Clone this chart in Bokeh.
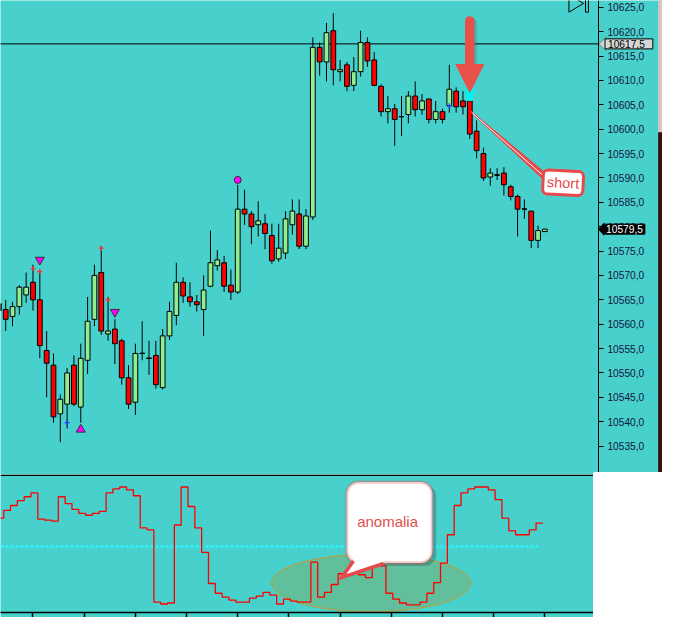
import numpy as np
from bokeh.plotting import figure
from bokeh.layouts import column
from bokeh.models import (Range1d, FixedTicker, Span, Label, BoxAnnotation,
                          PolyAnnotation, ColumnDataSource, LinearAxis)
from bokeh.embed import file_html
from bokeh.resources import INLINE

# ---------------- data ----------------
open_ = [10562.8, 10563.0, 10561.6, 10563.6, 10566.0, 10568.6, 10565.0, 10554.6, 10551.6, 10541.6,
         10543.6, 10551.6, 10543.0, 10552.6, 10561.0, 10570.6, 10558.0, 10559.0, 10556.6, 10549.0,
         10544.0, 10554.0, 10553.0, 10553.6, 10547.0, 10557.6, 10561.8, 10568.6, 10565.6, 10564.6,
         10563.0, 10567.8, 10572.0, 10572.6, 10568.0, 10566.6, 10583.6, 10582.6, 10580.4, 10580.6,
         10578.2, 10573.4, 10574.6, 10580.4, 10582.6, 10576.0, 10582.0, 10616.8, 10613.8, 10620.2,
         10611.8, 10613.2, 10609.0, 10611.8, 10617.8, 10614.2, 10608.8, 10603.6, 10604.2, 10602.6,
         10603.0, 10606.8, 10604.0, 10606.2, 10602.0, 10603.6, 10604.8, 10607.8, 10605.8, 10605.8,
         10599.6, 10595.0, 10590.2, 10590.6, 10591.0, 10588.2, 10586.2, 10583.6, 10583.2, 10577.2,
         10579.0]
high_ = [10565.4, 10565.0, 10564.6, 10568.0, 10570.6, 10572.2, 10571.0, 10558.6, 10554.0, 10545.6,
         10551.0, 10553.6, 10556.0, 10565.6, 10572.2, 10576.0, 10565.6, 10561.0, 10557.0, 10551.6,
         10556.0, 10560.6, 10556.6, 10556.6, 10559.0, 10564.6, 10572.6, 10569.6, 10568.6, 10566.0,
         10570.0, 10579.2, 10575.2, 10574.0, 10571.2, 10588.6, 10587.6, 10583.2, 10585.2, 10582.6,
         10580.6, 10580.6, 10583.2, 10585.6, 10585.6, 10583.6, 10618.8, 10617.8, 10621.8, 10623.8,
         10614.2, 10613.8, 10614.8, 10620.2, 10618.8, 10615.8, 10609.2, 10606.8, 10605.2, 10606.8,
         10607.8, 10609.8, 10607.2, 10606.2, 10605.8, 10604.2, 10613.2, 10608.6, 10607.8, 10607.8,
         10601.8, 10596.2, 10592.0, 10592.0, 10592.2, 10588.6, 10586.6, 10585.6, 10583.2, 10580.2,
         10579.5]
low_ = [10562.0, 10558.6, 10559.6, 10562.0, 10564.4, 10562.8, 10553.0, 10545.0, 10539.8, 10535.8,
        10538.6, 10543.2, 10539.8, 10549.8, 10559.6, 10557.8, 10556.6, 10551.8, 10547.6, 10542.6,
        10541.4, 10552.6, 10549.6, 10546.8, 10546.6, 10556.8, 10559.8, 10564.4, 10563.6, 10562.6,
        10557.6, 10567.6, 10571.0, 10566.6, 10565.0, 10566.2, 10580.4, 10576.4, 10578.0, 10575.4,
        10572.4, 10572.8, 10573.4, 10578.4, 10575.4, 10575.4, 10581.4, 10611.0, 10609.8, 10609.0,
        10609.8, 10607.8, 10607.8, 10610.8, 10612.8, 10608.8, 10602.6, 10601.2, 10596.6, 10598.6,
        10601.2, 10602.6, 10603.0, 10601.2, 10601.2, 10601.2, 10603.4, 10603.4, 10603.0, 10598.0,
        10594.0, 10589.4, 10588.4, 10589.6, 10586.4, 10585.4, 10578.0, 10581.6, 10575.6, 10575.6,
        10579.0]
close_ = [10564.2, 10561.0, 10563.6, 10567.6, 10567.6, 10565.0, 10555.6, 10552.0, 10541.0, 10544.6,
          10550.0, 10543.6, 10553.0, 10560.6, 10570.0, 10558.6, 10558.6, 10556.0, 10549.0, 10543.6,
          10554.0, 10554.0, 10553.0, 10547.6, 10557.6, 10562.6, 10568.6, 10565.8, 10564.6, 10564.0,
          10567.0, 10572.6, 10573.2, 10567.8, 10566.6, 10583.6, 10582.6, 10580.0, 10581.2, 10578.6,
          10573.0, 10575.6, 10581.6, 10583.2, 10576.0, 10582.2, 10616.8, 10613.8, 10619.8, 10612.2,
          10612.2, 10608.8, 10611.8, 10617.8, 10614.0, 10609.0, 10603.6, 10604.2, 10602.0, 10602.6,
          10606.8, 10604.0, 10605.8, 10602.0, 10603.6, 10602.0, 10608.2, 10604.6, 10604.6, 10599.0,
          10595.6, 10590.0, 10591.0, 10590.6, 10588.6, 10586.2, 10583.6, 10583.6, 10577.2, 10579.2,
          10579.5]
# lower-panel oscillator (one value per bar)
osc = [73.2, 79.6, 83.6, 87.6, 90.8, 94.0, 72.4, 71.6, 70.8, 90.8,
       85.2, 80.4, 77.2, 75.6, 77.2, 78.8, 94.0, 97.2, 98.8, 96.4,
       91.6, 65.2, 63.6, 4.4, 2.8, 3.6, 67.6, 98.8, 82.8, 65.2,
       45.2, 19.6, 11.6, 8.4, 6.0, 4.4, 4.4, 7.6, 9.2, 12.4,
       10.0, 2.8, 6.8, 5.2, 4.4, 4.4, 37.2, 8.4, 12.4, 18.8,
       27.6, 29.2, 28.4, 26.8, 24.4, 34.0, 34.0, 11.6, 6.8, 3.6,
       2.0, 2.0, 4.4, 11.6, 20.4, 36.4, 59.6, 83.6, 94.0, 97.2,
       98.8, 98.8, 96.4, 88.4, 73.2, 62.8, 59.6, 59.6, 63.6, 69.2]
osc_mid = 50
sig_dn_idx = [6, 17]
sig_dn_px = [10573.2, 10562.5]
sig_up_idx = [12]
sig_up_px = [10538.4]
dot_idx = [35]
dot_px = [10589.6]
red_mark_idx = [5, 6, 15, 16]
red_mark_px = [10571.4, 10570.8, 10575.6, 10565.0]
blue_mark_idx = [10, 66]
blue_mark_px = [10539.8, 10604.8]
price_ticks = [10535, 10540, 10545, 10550, 10555, 10560, 10565, 10570, 10575, 10580,
               10585, 10590, 10595, 10600, 10605, 10610, 10615, 10620, 10625]
time_ticks = [5, 12.5, 20, 27.5, 35, 42.5, 50, 57.5, 65, 72.5, 80]
hline_level = 10617.5
short_bar = 69

# ---------------- geometry / style ----------------
S = 0.975                      # overall scale to fit the window
BG = "#48D1CC"
GREEN = "#90EE90"
RED = "#FF0000"
CALLRED = "#E8494B"
AXC = "#14143C"
FONT = "Liberation Sans"


def kx(px):                     # reference pixel x -> bar units
    return (px + 1.67) / 7.0


def py(px):                     # reference pixel y -> price (top panel)
    return 10626.4 - px / 5.0


def vy(px):                     # reference pixel y -> oscillator units (bottom panel)
    return osc_mid + (560 - px) * 0.8


W_TOP, H_TOP = 662, 474
W_BOT, H_BOT = 593, 143
AXIS_X = kx(613.3)

p = figure(width=W_TOP, height=H_TOP, output_backend="svg", toolbar_location=None,
           x_range=Range1d(kx(0), kx(W_TOP / S)),
           y_range=Range1d(py(H_TOP / S), py(0)),
           x_axis_location=None, y_axis_location=None,
           min_border_left=0, min_border_right=0,
           min_border_top=0, min_border_bottom=0,
           background_fill_color=BG, border_fill_color=BG, outline_line_color=None)
p.grid.visible = False
ya = LinearAxis(fixed_location=AXIS_X)
ya.ticker = FixedTicker(ticks=price_ticks)
ya.major_label_overrides = {t: f"{t:.1f}".replace(".", ",") for t in price_ticks}
ya.minor_tick_line_color = None
ya.major_tick_in = 0
ya.major_tick_out = 5
ya.axis_line_color = "black"
ya.major_tick_line_color = "black"
ya.major_label_standoff = 4
ya.major_label_text_font = FONT
ya.major_label_text_font_size = "10.2px"
ya.major_label_text_color = AXC
p.add_layout(ya, "right")

idx = np.arange(len(open_))
o = np.array(open_); h = np.array(high_); l = np.array(low_); c = np.array(close_)
col = np.where(c >= o, GREEN, RED)
body = ColumnDataSource(dict(x=idx, top=np.maximum(o, c), bot=np.minimum(o, c), h=h, l=l, col=col))
doji = c == o

# user-drawn horizontal line, up to the price axis
p.segment([kx(0) - 1], [hline_level], [AXIS_X], [hline_level], line_color="black", line_width=1)
p.segment(x0="x", y0="h", x1="x", y1="l", source=body, line_color="black", line_width=1)
p.vbar(x="x", width=0.7, top="top", bottom="bot", source=body, fill_color="col",
       line_color="black", line_width=1)
p.segment(x0=idx[doji] - 0.36, y0=c[doji], x1=idx[doji] + 0.36, y1=c[doji],
          line_color="black", line_width=1.2)

# signal markers
p.scatter(sig_dn_idx, sig_dn_px, marker="inverted_triangle", size=9, fill_color="#FF00FF",
          line_color="#303030", line_width=1)
p.scatter(sig_up_idx, sig_up_px, marker="triangle", size=9, fill_color="#FF00FF",
          line_color="#303030", line_width=1)
p.scatter(dot_idx, dot_px, marker="circle", size=7, fill_color="#FF00FF",
          line_color="#303030", line_width=1)
p.scatter(red_mark_idx, red_mark_px, marker="cross", size=5, line_color="#FF3030", line_width=1.3)
p.scatter(blue_mark_idx, blue_mark_px, marker="cross", size=5, line_color="#2040FF", line_width=1.3)

# big red arrow at the short bar, with cyan glow at its tip
ax = short_bar
tip = high_[ax] - 0.4
p.patch([ax - 0.75, ax + 0.75, ax + 0.35, ax - 0.35],
        [tip + 0.8, tip + 0.8, o[ax], o[ax]], fill_color="#00F4F4", line_color=None)
p.segment([ax + 0.3], [tip + 5.6], [ax + 0.3], [tip + 14.4], line_color="#2A6A66",
          line_alpha=0.25, line_width=10, line_cap="round")
p.segment([ax], [tip + 6.0], [ax], [tip + 14.8], line_color="#E8504A", line_width=9.5,
          line_cap="round")
p.patch([ax - 2.15, ax + 2.15, ax], [tip + 6.0, tip + 6.0, tip], fill_color="#E8504A",
        line_color=None)

# "short" callout
p.patch([kx(482.5), kx(556), kx(560)], [py(114), py(175), py(186)],
        fill_color=CALLRED, line_color=CALLRED, line_width=1.5)
p.segment([kx(484)], [py(115.5)], [kx(557)], [py(180)], line_color="white", line_width=1)
p.add_layout(Label(x=kx(577), y=py(187), text="short", text_align="center",
                   text_baseline="middle", text_font=FONT, text_font_size="14.5px",
                   text_color=CALLRED, angle=-0.05, background_fill_color="white",
                   border_line_color=CALLRED, border_line_width=3, border_radius=5,
                   padding=4))

# chart-window icon (top right)
p.patch([kx(583), kx(583), kx(598)], [py(-6), py(12), py(3)], fill_alpha=0,
        line_color="black", line_width=1)
p.quad(left=[kx(600)], right=[kx(603)], top=[py(-2)], bottom=[py(12)], fill_alpha=0,
       line_color="black", line_width=1)

# scrollbar strip at the right edge and white corner under the axis
p.add_layout(BoxAnnotation(left=kx(674.5), right=kx(690), top=py(-5), bottom=py(135),
                           fill_color="#D8C4C4", fill_alpha=1, line_color=None))
p.add_layout(BoxAnnotation(left=kx(674.5), right=kx(690), top=py(135), bottom=py(484),
                           fill_color="#3A0C0C", fill_alpha=1, line_color=None))
p.add_layout(BoxAnnotation(left=kx(608.3), right=kx(690), top=py(483.5), bottom=py(500),
                           fill_color="white", fill_alpha=1, line_color=None))

# price tags on the axis
p.add_layout(PolyAnnotation(xs=[kx(620.5), kx(614), kx(620.5)],
                            ys=[hline_level + 1.3, hline_level, hline_level - 1.3],
                            fill_color="#D6D6D6", fill_alpha=1, line_color="black"))
p.add_layout(Label(x=kx(620), y=hline_level, text="10617,5", text_align="left",
                   text_baseline="middle", text_font=FONT, text_font_size="10.2px",
                   text_color="black", background_fill_color="#D6D6D6",
                   border_line_color="black", border_line_width=1,
                   padding=dict(left=3, right=8, top=1, bottom=1)))
last = close_[-1]
p.add_layout(PolyAnnotation(xs=[kx(619), kx(613), kx(619)], ys=[last + 1.3, last, last - 1.3],
                            fill_color="black", fill_alpha=1, line_color="black"))
p.add_layout(Label(x=kx(618), y=last, text=f"{last:.1f}".replace(".", ","), text_align="left",
                   text_baseline="middle", text_font=FONT, text_font_size="10.2px",
                   text_color="white", background_fill_color="black",
                   border_line_color="black", border_line_width=1,
                   padding=dict(left=3, right=2, top=1, bottom=1)))

# ---------------- lower oscillator panel ----------------
p2 = figure(width=W_BOT, height=H_BOT, output_backend="svg", toolbar_location=None,
            x_range=Range1d(kx(0), kx(W_BOT / S)),
            y_range=Range1d(vy(486.2 + 138 / S), vy(486.2)),
            y_axis_location=None,
            min_border_left=0, min_border_right=0, min_border_top=0, min_border_bottom=0,
            background_fill_color=BG, border_fill_color=BG, outline_line_color=None)
p2.grid.visible = False
xa = p2.xaxis[0]
xa.ticker = FixedTicker(ticks=time_ticks)
xa.major_label_text_font_size = "1px"
xa.major_label_text_color = None
xa.major_label_standoff = 0
xa.minor_tick_line_color = None
xa.major_tick_in = 0
xa.major_tick_out = 5
xa.axis_line_color = "black"
xa.major_tick_line_color = "black"
xa.axis_line_width = 1.5
xa.major_tick_line_width = 1.5

p2.add_layout(Span(location=vy(487), dimension="width", line_color="black", line_width=1.5))

# highlighted ellipse
p2.ellipse(x=[kx(380)], y=[vy(597.5)], width=[204 / 7.0], height=[59 * 0.8],
           fill_color="#989839", fill_alpha=0.32, line_color="#C49A30", line_width=1)
# mid line
oi = np.arange(len(osc))
p2.line([kx(0), oi[-1]], [osc_mid, osc_mid], line_color="#2EF2FF", line_width=2.4,
        line_dash="3 2")
# step oscillator
sx = list(oi - 0.29) + [oi[-1] + 0.71]
sy = list(osc) + [osc[-1]]
p2.step(sx, sy, mode="after", line_color="#FF0000", line_width=1.3)

# "anomalia" callout
p2.add_layout(BoxAnnotation(left=kx(359), right=kx(447), bottom=vy(580), top=vy(497),
                            fill_color="#1E5C58", fill_alpha=0.35, line_color=None,
                            border_radius=12))
p2.add_layout(BoxAnnotation(left=kx(355), right=kx(443), bottom=vy(577), top=vy(494),
                            fill_color="white", fill_alpha=1, line_color=CALLRED,
                            line_width=3.5, border_radius=12))
tail = p2.patch([kx(362), kx(362), kx(350), kx(393), kx(393)],
                [vy(571), vy(575), vy(591.7), vy(577.5), vy(571)],
                fill_color="white", line_color=None)
tail.level = "overlay"
tl = p2.line([kx(362), kx(350), kx(393)], [vy(575), vy(591.7), vy(577.5)],
             line_color=CALLRED, line_width=3.5, line_join="miter")
tl.level = "overlay"
p2.add_layout(Label(x=kx(397), y=vy(534), text="anomalia", text_align="center",
                    text_baseline="middle", text_font=FONT, text_font_size="15px",
                    text_color="#E05050"))

layout = column(p, p2)
open("out.html", "w").write(file_html(layout, INLINE))
